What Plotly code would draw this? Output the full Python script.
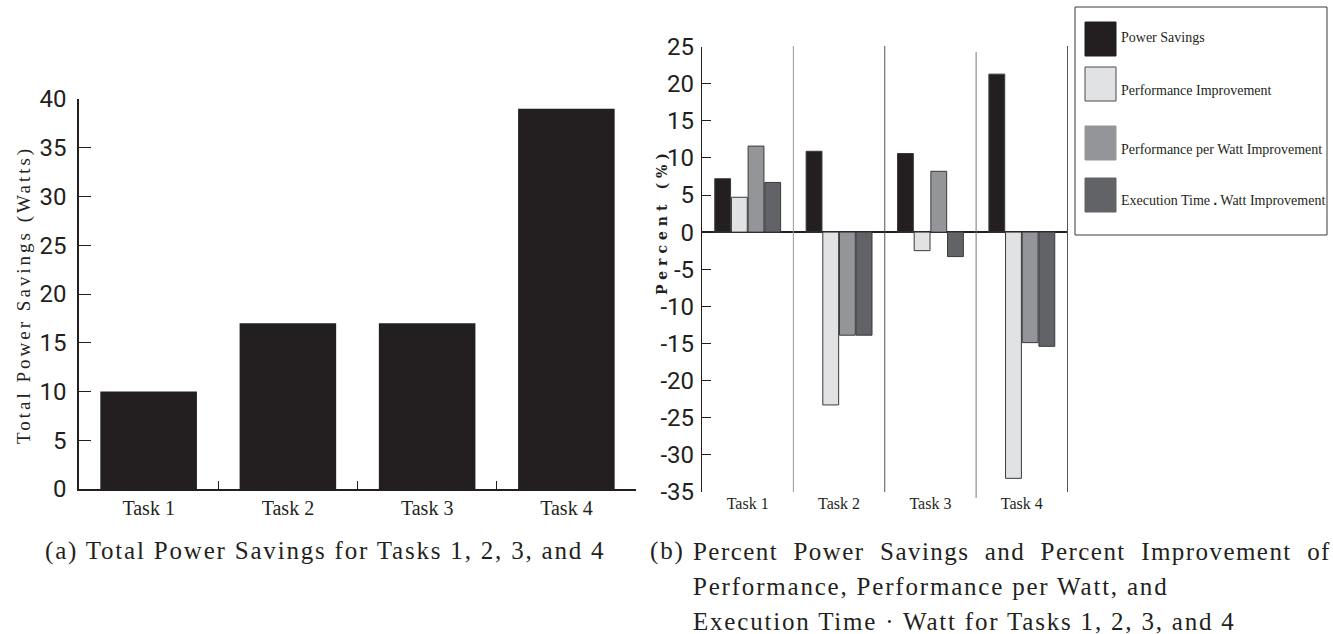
import plotly.graph_objects as go

W, H = 1333, 634

# ---------------- data ----------------
tasks = ["Task 1", "Task 2", "Task 3", "Task 4"]
total_savings = [10, 17, 17, 39]

power_savings = [7.2, 10.9, 10.6, 21.3]
perf_improvement = [4.7, -23.3, -2.5, -33.2]
perf_per_watt = [11.6, -13.9, 8.2, -14.9]
exec_time_watt = [6.7, -13.9, -3.3, -15.4]

left_ticks = [0, 5, 10, 15, 20, 25, 30, 35, 40]
left_ticktext = ["0", "5", "10", "15", "20", "25", "30", "35", "40"]
right_ticks = [25, 20, 15, 10, 5, 0, -5, -10, -15, -20, -25, -30, -35]
right_ticktext = ["25", "20", "15", "10", "5", "0", "-5", "-10", "-15", "-20", "-25", "-30", "-35"]

series_names = ["Power Savings", "Performance Improvement",
                "Performance per Watt Improvement", "Execution Time <b>.</b> Watt Improvement"]
series_colors = ["#231f20", "#e1e2e4", "#939598", "#626366"]

# ---------------- helpers ----------------
def px_x(x):
    return x / W

def px_y(y):
    return 1 - y / H

fig = go.Figure()

# left chart
fig.add_trace(go.Bar(x=tasks, y=total_savings, marker=dict(color="#231f20", line=dict(width=0)),
                     xaxis="x", yaxis="y", showlegend=False))

# right chart
for vals, name, col in zip([power_savings, perf_improvement, perf_per_watt, exec_time_watt],
                           series_names, series_colors):
    fig.add_trace(go.Bar(x=tasks, y=vals, name=name,
                         marker=dict(color=col, line=dict(color="#3a3a3a", width=1)),
                         xaxis="x2", yaxis="y2", showlegend=False))

serif = "Liberation Serif, Times New Roman, serif"
sans = "Roboto, Open Sans, sans-serif"
narrow = "Liberation Sans Narrow, Roboto, sans-serif"

fig.update_layout(
    template="none",
    width=W, height=H, autosize=False,
    margin=dict(l=0, r=0, t=0, b=0, pad=0, autoexpand=False),
    paper_bgcolor="white", plot_bgcolor="white",
    showlegend=False,
    barmode="group", bargap=0.27, bargroupgap=0.05,
    xaxis=dict(domain=[px_x(79), px_x(636)], anchor="y", type="category", automargin=False,
               showline=True, linecolor="#231f20", linewidth=1.5,
               ticks="inside", tickson="boundaries", ticklen=8, tickcolor="#231f20",
               showgrid=False, zeroline=False,
               tickfont=dict(family=serif, size=20, color="#231f20"), ticklabelstandoff=0),
    yaxis=dict(domain=[px_y(489), px_y(99)], anchor="x", range=[0, 40], automargin=False,
               tickvals=left_ticks, ticktext=left_ticktext,
               showline=True, linecolor="#231f20", linewidth=1.5,
               ticks="inside", ticklen=12, tickcolor="#231f20",
               showgrid=False, zeroline=False,
               tickfont=dict(family=sans, size=24, color="#231f20"), ticklabelstandoff=6),
    xaxis2=dict(domain=[px_x(702), px_x(1068)], anchor="y2", type="category", automargin=False,
                showline=False, ticks="", showgrid=False, zeroline=False,
                tickfont=dict(family=serif, size=16, color="#231f20")),
    yaxis2=dict(domain=[px_y(491.7), px_y(46.7)], anchor="x2", range=[-35, 25], automargin=False,
                tickvals=right_ticks, ticktext=right_ticktext,
                showline=True, linecolor="#231f20", linewidth=1.2,
                ticks="inside", ticklen=9, tickcolor="#231f20",
                showgrid=False, zeroline=True, zerolinecolor="#231f20", zerolinewidth=1.5,
                tickfont=dict(family=narrow, size=24, color="#231f20"), ticklabelstandoff=2),
)

shapes = []
# separators on right chart
sep_colors = ["#9a9a9a", "#555555", "#777777", "#555555"]
sep_ranges = [(46, 492), (46, 492), (52, 498), (46, 492)]
for i, (c, (ya, yb)) in enumerate(zip(sep_colors, sep_ranges)):
    shapes.append(dict(type="line", xref="x2", yref="paper", x0=i + 0.5, x1=i + 0.5,
                       y0=px_y(yb), y1=px_y(ya), line=dict(color=c, width=1)))

# legend box
shapes.append(dict(type="rect", xref="paper", yref="paper",
                   x0=px_x(1075), x1=px_x(1327), y0=px_y(235), y1=px_y(7),
                   line=dict(color="#3a3a3a", width=1), fillcolor="white"))
sw_y = [(22, 56), (67, 101), (126, 160), (178, 212)]
txt_y = [38, 90, 150, 200]
annotations = []
for (ya, yb), ty, name, col in zip(sw_y, txt_y, series_names, series_colors):
    shapes.append(dict(type="rect", xref="paper", yref="paper",
                       x0=px_x(1085), x1=px_x(1116), y0=px_y(yb), y1=px_y(ya),
                       line=dict(color="#4a4a4a" if col == "#e1e2e4" else col, width=1),
                       fillcolor=col))
    annotations.append(dict(text=name, xref="paper", yref="paper", x=px_x(1119), y=px_y(ty),
                            xanchor="left", yanchor="middle", showarrow=False,
                            font=dict(family=serif, size=14, color="#231f20")))

# axis titles
annotations.append(dict(text='<span style="letter-spacing:3px">Total Power Savings (Watts)</span>',
                        xref="paper", yref="paper",
                        x=px_x(24), y=px_y(295), textangle=-90, showarrow=False,
                        xanchor="center", yanchor="middle",
                        font=dict(family=serif, size=19, color="#231f20")))
annotations.append(dict(text='<span style="letter-spacing:5px">Percent (%)</span>',
                        xref="paper", yref="paper",
                        x=px_x(662), y=px_y(222), textangle=-90, showarrow=False,
                        xanchor="center", yanchor="middle",
                        font=dict(family="DejaVu Serif, serif", size=14, color="#231f20", weight="bold")))

# captions
cap_font = dict(family=serif, size=25, color="#231f20")
nb = "\u00a0"
def spaced(t, s=1.8):
    return '<span style="letter-spacing:%spx">' % s + t + '</span>'

annotations.append(dict(text=spaced("(a) Total Power Savings for Tasks 1, 2, 3, and 4"), xref="paper", yref="paper",
                        x=px_x(43), y=px_y(551), xanchor="left", yanchor="middle",
                        showarrow=False, font=cap_font))
annotations.append(dict(text=spaced("(b)"), xref="paper", yref="paper",
                        x=px_x(648), y=px_y(551), xanchor="left", yanchor="middle",
                        showarrow=False, font=cap_font))
line1 = (nb * 2).join(["Percent", "Power", "Savings", "and", "Percent", "Improvement", "of"])
annotations.append(dict(text=spaced(line1, 1.45), xref="paper", yref="paper",
                        x=px_x(691), y=px_y(551), xanchor="left", yanchor="middle",
                        showarrow=False, font=cap_font))
annotations.append(dict(text=spaced("Performance, Performance per Watt, and"), xref="paper", yref="paper",
                        x=px_x(691), y=px_y(586), xanchor="left", yanchor="middle",
                        showarrow=False, font=cap_font))
annotations.append(dict(text=spaced("Execution Time · Watt for Tasks 1, 2, 3, and 4"), xref="paper", yref="paper",
                        x=px_x(691), y=px_y(621), xanchor="left", yanchor="middle",
                        showarrow=False, font=cap_font))

fig.update_layout(shapes=shapes, annotations=annotations)
fig.write_html("out.html", config={"displayModeBar": False},
               post_script="document.body.style.margin='0';document.body.style.overflow='hidden';")
